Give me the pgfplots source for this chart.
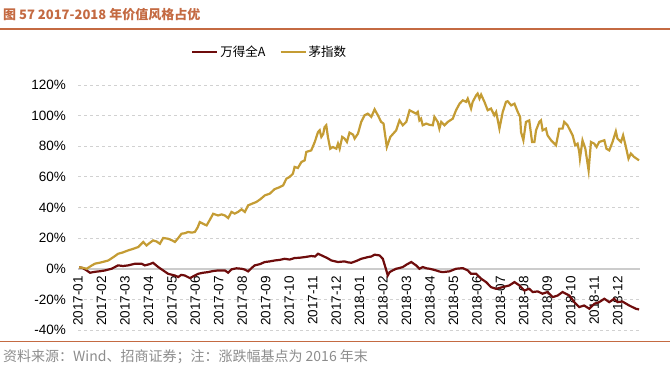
\documentclass[border=0pt]{standalone}
\usepackage{pgfplots}
\pgfplotsset{compat=1.18}
\usepackage{fontspec}
\setmainfont{Liberation Sans}
\newfontfamily\cjk{Noto Sans CJK SC}
\definecolor{titlec}{RGB}{196,106,66}
\definecolor{goldc}{RGB}{196,156,52}
\definecolor{maroonc}{RGB}{110,12,12}
\begin{document}
\begin{tikzpicture}
\path[use as bounding box] (0pt,0pt) rectangle (670pt,373pt);
\node[anchor=west, inner sep=0, text=titlec, font=\cjk\bfseries\fontsize{13}{16}\selectfont] at (3pt,358pt) {图 57 2017-2018 年价值风格占优};
\draw[titlec, line width=2pt] (0pt,343.7pt) -- (670pt,343.7pt);
\draw[titlec, line width=1.2pt] (0pt,31.3pt) -- (670pt,31.3pt);
\node[anchor=west, inner sep=0, text=black!45, font=\cjk\fontsize{14}{16}\selectfont] at (3pt,16.5pt) {资料来源：Wind、招商证券；注：涨跌幅基点为 2016 年末};
\begin{axis}[at={(78pt,43pt)}, anchor=south west, scale only axis,
  width=562pt, height=245pt,
  xmin=0, xmax=23.95, ymin=-40, ymax=120,
  axis line style={draw=none},
  xtick={0,1,...,23},
  xticklabels={2017-01,2017-02,2017-03,2017-04,2017-05,2017-06,2017-07,2017-08,2017-09,2017-10,2017-11,2017-12,2018-01,2018-02,2018-03,2018-04,2018-05,2018-06,2018-07,2018-08,2018-09,2018-10,2018-11,2018-12},
  ytick={-40,-20,0,20,40,60,80,100,120},
  yticklabels={-40\%,-20\%,0\%,20\%,40\%,60\%,80\%,100\%,120\%},
  xtick pos=bottom, ytick pos=left,
  major tick length=0pt, tick style={draw=none},
  ymajorgrids, grid style={draw=black!18, dash pattern=on 3pt off 3pt, line width=0.8pt},
  ticklabel style={font=\fontsize{13.5}{16}\selectfont},
  xticklabel style={rotate=90, anchor=east, inner sep=0pt},
  xticklabel shift=-54pt,
  yticklabel style={inner sep=0pt},
  yticklabel shift=12pt,
  legend style={at={(0.341,1.135)}, anchor=center, draw=none, fill=none, inner sep=0pt,
    font=\cjk\fontsize{12.5}{15}\selectfont, legend columns=2,
    /tikz/every even column/.append style={column sep=12pt}},
  legend image code/.code={\draw[#1, line width=2.2pt] (0pt,0pt) -- (25pt,0pt);},
]
\addplot[black!20, line width=2pt, forget plot] coordinates {(0,0) (23.95,0)};
\addplot[maroonc, line width=2.2pt] coordinates {
(0.05,1.0)(0.2,0.5)(0.37,-1.1)(0.51,-2.6)(0.72,-2.0)(0.95,-1.6)(1.15,-1.1)(1.43,0.0)(1.71,2.2)(1.92,1.8)(2.14,2.2)(2.43,3.3)(2.71,3.3)(2.85,2.2)(3.05,3.0)(3.20,3.9)(3.42,1.1)(3.63,-1.1)(3.84,-3.3)(4.13,-4.4)(4.27,-5.4)(4.40,-4.0)(4.55,-4.4)(4.77,-6.1)(4.98,-4.4)(5.12,-3.3)(5.33,-2.6)(5.54,-2.2)(5.75,-1.5)(5.97,-1.1)(6.26,-1.1)(6.40,-2.6)(6.54,-0.4)(6.75,0.3)(6.97,0.0)(7.10,-0.5)(7.25,-1.7)(7.40,0.5)(7.53,2.2)(7.75,3.0)(7.96,4.4)(8.17,4.8)(8.38,5.4)(8.60,5.8)(8.81,6.5)(9.02,6.0)(9.23,7.0)(9.45,7.2)(9.66,7.6)(9.94,8.3)(10.10,8.0)(10.23,9.8)(10.44,8.3)(10.62,7.0)(10.80,5.4)(11.08,4.4)(11.36,4.8)(11.50,4.2)(11.65,3.9)(11.85,5.0)(12.07,6.5)(12.35,7.6)(12.50,8.0)(12.64,9.2)(12.85,8.7)(12.99,6.5)(13.14,-1.1)(13.20,-4.4)(13.28,-2.2)(13.42,-1.0)(13.56,0.0)(13.70,0.5)(13.84,1.1)(13.99,2.6)(14.20,4.4)(14.41,2.2)(14.55,0.0)(14.69,1.1)(14.85,0.3)(14.98,0.0)(15.12,-0.5)(15.26,-1.1)(15.40,-1.8)(15.54,-2.2)(15.83,-1.7)(16.11,0.0)(16.40,0.4)(16.61,-1.1)(16.75,-3.3)(16.97,-3.3)(17.18,-6.5)(17.39,-8.7)(17.60,-12.0)(17.82,-13.1)(18.10,-12.0)(18.38,-10.9)(18.60,-8.7)(18.81,-10.9)(19.02,-14.2)(19.23,-13.1)(19.38,-15.2)(19.59,-14.8)(19.80,-16.3)(20.01,-15.2)(20.23,-18.5)(20.44,-17.5)(20.65,-15.2)(20.94,-17.5)(21.15,-21.8)(21.36,-25.0)(21.57,-24.0)(21.79,-26.1)(22.00,-22.9)(22.21,-21.8)(22.43,-19.6)(22.64,-21.8)(22.85,-19.6)(22.99,-21.8)(23.20,-21.4)(23.49,-24.0)(23.77,-26.1)(23.91,-26.6)
};
\addlegendentry{万得全A}
\addplot[goldc, line width=2.2pt] coordinates {
(0.05,1.0)(0.2,0.6)(0.37,0.0)(0.55,1.8)(0.72,3.3)(1.0,4.2)(1.29,5.4)(1.5,7.5)(1.71,9.8)(1.9,10.6)(2.14,12.0)(2.35,13.0)(2.57,14.2)(2.78,17.5)(2.92,15.2)(3.05,16.8)(3.20,18.5)(3.35,17.8)(3.49,16.3)(3.63,20.1)(3.84,19.6)(4.0,18.6)(4.13,17.5)(4.27,20.0)(4.41,22.9)(4.55,23.2)(4.69,24.0)(4.85,23.6)(4.98,24.0)(5.10,27.0)(5.19,30.5)(5.33,29.4)(5.48,28.3)(5.62,32.0)(5.76,35.9)(5.97,34.8)(6.12,35.5)(6.26,34.8)(6.40,33.1)(6.54,37.1)(6.68,36.0)(6.82,37.1)(6.97,38.8)(7.11,37.1)(7.25,41.4)(7.42,42.5)(7.60,43.6)(7.78,45.5)(7.96,47.9)(8.17,49.0)(8.38,52.0)(8.55,53.0)(8.74,54.4)(8.88,58.8)(9.02,60.0)(9.16,62.1)(9.23,66.5)(9.37,65.8)(9.52,69.7)(9.66,70.8)(9.73,76.3)(9.94,77.3)(10.09,82.8)(10.23,89.3)(10.30,90.4)(10.37,86.1)(10.45,88.0)(10.51,92.6)(10.58,93.7)(10.65,86.1)(10.75,78.4)(10.86,79.5)(11.01,78.4)(11.08,81.7)(11.15,78.4)(11.26,86.1)(11.36,85.0)(11.46,82.8)(11.57,88.9)(11.72,87.6)(11.79,85.0)(11.93,88.2)(12.07,95.9)(12.21,100.2)(12.35,101.3)(12.50,99.2)(12.64,104.1)(12.78,100.2)(12.92,95.9)(13.02,94.8)(13.11,85.0)(13.16,79.5)(13.31,86.1)(13.45,88.5)(13.56,90.4)(13.70,96.9)(13.84,93.7)(13.99,95.9)(14.13,103.5)(14.27,102.4)(14.41,101.3)(14.48,102.4)(14.55,96.9)(14.62,98.0)(14.69,93.7)(14.84,94.8)(14.98,94.0)(15.12,93.7)(15.19,99.2)(15.33,95.9)(15.40,91.5)(15.48,95.9)(15.62,93.7)(15.76,95.9)(15.97,98.0)(16.11,103.5)(16.26,107.8)(16.40,110.0)(16.54,109.0)(16.61,111.1)(16.75,104.6)(16.82,109.0)(16.97,113.3)(17.03,114.4)(17.11,111.1)(17.18,113.7)(17.32,109.0)(17.46,103.5)(17.60,104.6)(17.74,100.2)(17.82,102.4)(17.96,91.5)(18.10,102.4)(18.24,109.0)(18.31,109.4)(18.46,106.7)(18.60,107.8)(18.74,102.4)(18.84,99.2)(18.88,89.3)(18.98,83.9)(19.09,95.9)(19.23,96.9)(19.35,82.8)(19.45,82.8)(19.52,90.4)(19.66,95.9)(19.73,96.9)(19.80,90.4)(19.94,91.5)(20.01,87.1)(20.16,83.9)(20.37,80.6)(20.51,91.5)(20.65,91.5)(20.72,95.9)(20.86,93.7)(21.08,87.1)(21.19,80.6)(21.29,81.7)(21.36,76.3)(21.39,71.9)(21.50,83.9)(21.62,78.4)(21.76,64.2)(21.86,82.8)(22.00,81.7)(22.10,79.5)(22.21,82.8)(22.43,83.9)(22.52,78.4)(22.64,77.3)(22.78,82.8)(22.92,89.7)(22.99,85.0)(23.14,82.8)(23.23,87.1)(23.35,79.5)(23.46,71.9)(23.56,75.2)(23.70,73.0)(23.91,70.8)
};
\addlegendentry{茅指数}
\end{axis}
\end{tikzpicture}
\end{document}
